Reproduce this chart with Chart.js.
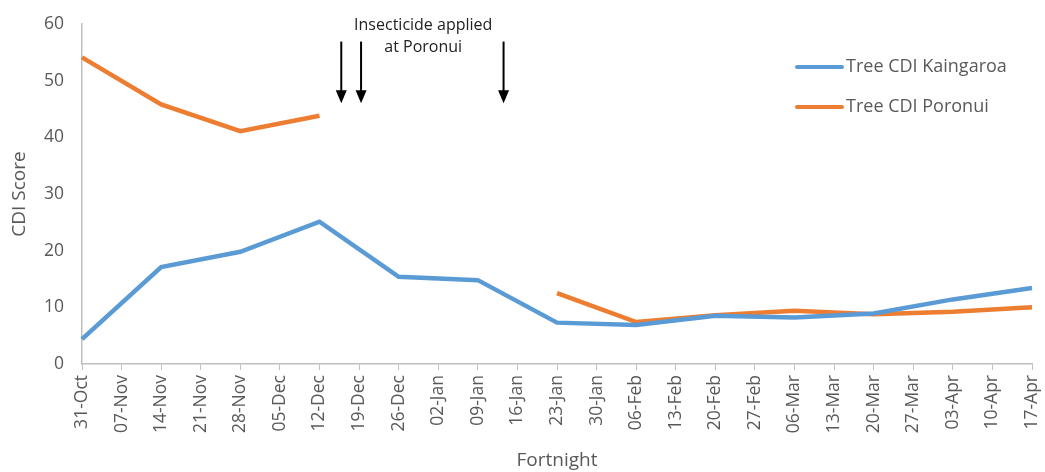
<!DOCTYPE html>
<html>
<head>
<meta charset="utf-8">
<script src="https://cdn.jsdelivr.net/npm/chart.js@4.4.1/dist/chart.umd.min.js"></script>
<style>
  html, body { margin: 0; padding: 0; background: #fff; }
  #wrap { width: 1045px; height: 472px; }
</style>
</head>
<body>
<div id="wrap"><canvas id="cdiChart" width="1045" height="472"></canvas></div>
<script>
// weekly tick labels on the category axis
const weeks = ['31-Oct','07-Nov','14-Nov','21-Nov','28-Nov','05-Dec','12-Dec','19-Dec','26-Dec',
  '02-Jan','09-Jan','16-Jan','23-Jan','30-Jan','06-Feb','13-Feb','20-Feb','27-Feb','06-Mar',
  '13-Mar','20-Mar','27-Mar','03-Apr','10-Apr','17-Apr'];
// sampling dates (every second week)
const fortnights = ['31-Oct','14-Nov','28-Nov','12-Dec','26-Dec','09-Jan','23-Jan','06-Feb',
  '20-Feb','06-Mar','20-Mar','03-Apr','17-Apr'];
const kaingaroa = [4.4, 17.1, 19.8, 25.1, 15.4, 14.8, 7.3, 6.9, 8.5, 8.2, 8.9, 11.4, 13.4];
const poronui   = [54.1, 45.8, 41.1, 43.8, null, null, 12.5, 7.4, 8.6, 9.4, 8.8, 9.2, 10.0];
const seriesNames = ['Tree CDI Kaingaroa','Tree CDI Poronui'];
const seriesColors = ['#5B9BD5','#ED7D31'];
// insecticide arrows, at fractional week index
const arrowWeeks = [6.55, 7.05, 10.65];
const noteLines = ['Insecticide applied','at Poronui'];

const grey = '#595959';
const font = 'Open Sans';

function toPoints(values) {
  return fortnights.map((d, i) => ({ x: d, y: values[i] }));
}

// arrows + note text
const arrowsPlugin = {
  id: 'arrows',
  afterDatasetsDraw(chart) {
    const ctx = chart.ctx, x = chart.scales.x, y = chart.scales.y;
    const step = x.getPixelForValue(1) - x.getPixelForValue(0);
    const x0 = x.getPixelForValue(0);
    const top = y.getPixelForValue(56.9), tip = y.getPixelForValue(46);
    ctx.save();
    ctx.strokeStyle = '#000';
    ctx.fillStyle = '#000';
    ctx.lineWidth = 2;
    arrowWeeks.forEach(w => {
      const px = x0 + w * step;
      ctx.beginPath();
      ctx.moveTo(px, top);
      ctx.lineTo(px, tip - 10);
      ctx.stroke();
      ctx.beginPath();
      ctx.moveTo(px - 5.5, tip - 13);
      ctx.lineTo(px + 5.5, tip - 13);
      ctx.lineTo(px, tip);
      ctx.closePath();
      ctx.fill();
    });
    ctx.font = '16px "' + font + '"';
    ctx.fillStyle = '#222';
    ctx.textAlign = 'center';
    ctx.textBaseline = 'middle';
    const cx = x0 + 8.62 * step;
    ctx.fillText(noteLines[0], cx, 25);
    ctx.fillText(noteLines[1], cx, 47);
    ctx.restore();
  }
};

// legend in upper right, inside the plot
const legendPlugin = {
  id: 'sideLegend',
  afterDraw(chart) {
    const ctx = chart.ctx;
    ctx.save();
    ctx.font = '18px "' + font + '"';
    ctx.textBaseline = 'middle';
    ctx.textAlign = 'left';
    chart.data.datasets.forEach((ds, i) => {
      const ly = 67 + i * 40;
      ctx.strokeStyle = ds.borderColor;
      ctx.lineWidth = 4;
      ctx.lineCap = 'round';
      ctx.beginPath();
      ctx.moveTo(797, ly);
      ctx.lineTo(842, ly);
      ctx.stroke();
      ctx.fillStyle = grey;
      ctx.fillText(ds.label, 846, ly);
    });
    ctx.restore();
  }
};

const ctx = document.getElementById('cdiChart').getContext('2d');
const myChart = new Chart(ctx, {
  type: 'line',
  data: {
    labels: weeks,
    datasets: [
      {
        label: seriesNames[0],
        data: toPoints(kaingaroa),
        borderColor: seriesColors[0],
        backgroundColor: seriesColors[0],
        borderWidth: 4.5,
        pointRadius: 0,
        tension: 0
      },
      {
        label: seriesNames[1],
        data: toPoints(poronui),
        borderColor: seriesColors[1],
        backgroundColor: seriesColors[1],
        borderWidth: 4.5,
        pointRadius: 0,
        spanGaps: false,
        tension: 0
      }
    ]
  },
  options: {
    responsive: false,
    animation: false,
    layout: { padding: { top: 24, right: 13, left: 2, bottom: 0 } },
    plugins: {
      legend: { display: false },
      tooltip: { enabled: false }
    },
    scales: {
      x: {
        offset: false,
        grid: { display: true, drawOnChartArea: false, drawTicks: true, tickLength: 6, color: '#BFBFBF' },
        border: { display: true, color: '#BFBFBF', width: 1.5 },
        ticks: {
          autoSkip: false,
          maxRotation: 90,
          minRotation: 90,
          color: grey,
          padding: 5,
          font: { family: font, size: 17.5 }
        },
        title: {
          display: true,
          text: 'Fortnight',
          color: grey,
          font: { family: font, size: 19 },
          padding: { top: 4, bottom: 0 }
        },
        afterFit(s) {
          s.height = 108;
          s.paddingLeft = 0;
          s.paddingRight = 0;
        }
      },
      y: {
        min: 0,
        max: 60,
        ticks: { stepSize: 10, color: grey, padding: 10, font: { family: font, size: 17.5 } },
        grid: { display: false },
        border: { display: true, color: '#BFBFBF', width: 1.5 },
        title: {
          display: true,
          text: 'CDI Score',
          color: grey,
          font: { family: font, size: 19 },
          padding: { top: 6, bottom: 0 }
        },
        afterFit(s) { s.width = 80; }
      }
    }
  },
  plugins: [arrowsPlugin, legendPlugin]
});
</script>
</body>
</html>
